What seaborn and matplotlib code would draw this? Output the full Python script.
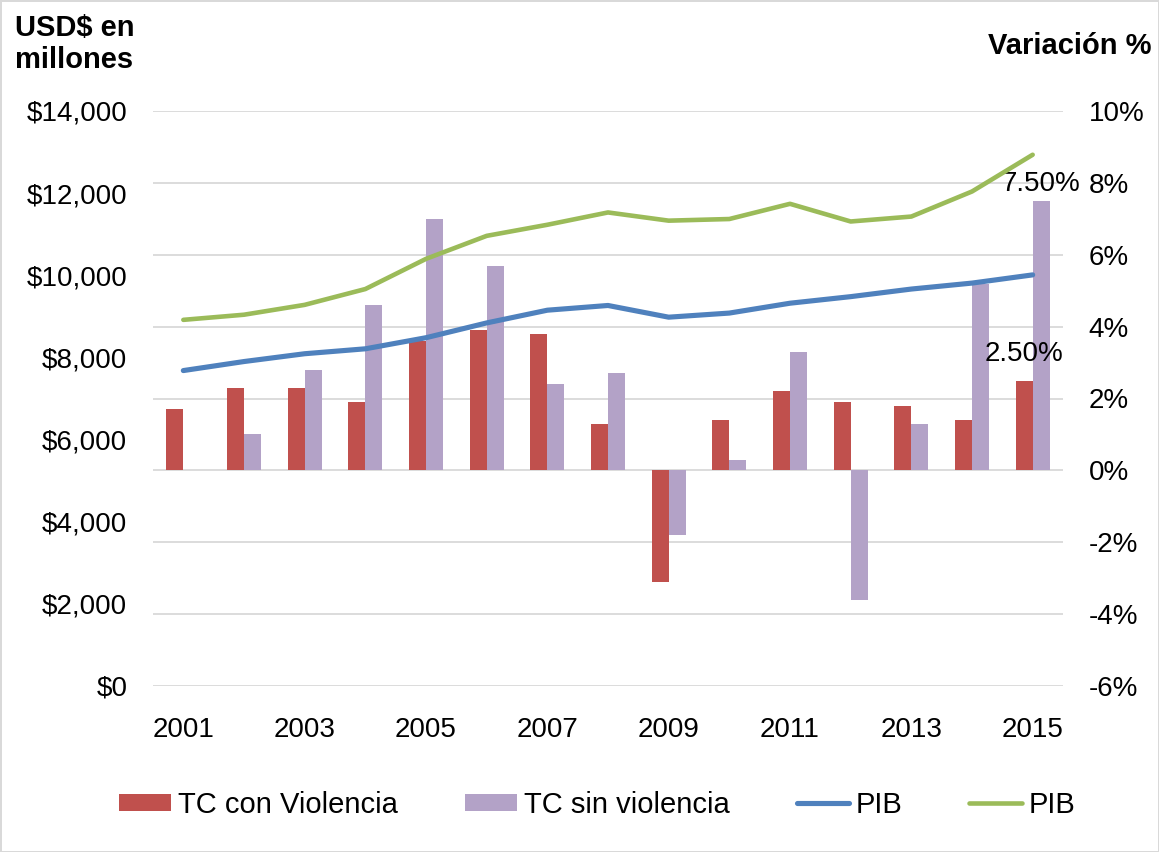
"""Turismo receptor (TC con / sin violencia) vs PIB, 2001-2015, dual axis."""

import matplotlib

matplotlib.use("Agg")
import matplotlib.pyplot as plt
import numpy as np
import pandas as pd
import seaborn as sns
from matplotlib.ticker import FuncFormatter, MultipleLocator

years = [str(y) for y in range(2001, 2016)]
# variacion % (eje derecho)
tc_con_violencia = [1.7, 2.3, 2.3, 1.9, 3.6, 3.9, 3.8, 1.3, -3.1, 1.4, 2.2, 1.9, 1.8, 1.4, 2.5]
tc_sin_violencia = [0.0, 1.0, 2.8, 4.6, 7.0, 5.7, 2.4, 2.7, -1.8, 0.3, 3.3, -3.6, 1.3, 5.2, 7.5]
# USD$ en millones (eje izquierdo)
pib_azul = [7680, 7900, 8090, 8210, 8480, 8840, 9150, 9265, 8980, 9080, 9320, 9480, 9665, 9810, 10010]
pib_verde = [8915, 9040, 9280, 9665, 10400, 10960, 11230, 11530, 11330, 11370, 11740, 11310, 11430, 12040, 12935]
series_names = ["TC con Violencia", "TC sin violencia"]
shown_labels = {"TC con Violencia": "2.50%", "TC sin violencia": "7.50%"}

RED, PURPLE = "#C0504D", "#B3A2C7"
BLUE, GREEN = "#4F81BD", "#9BBB59"
GRID = "#D9D9D9"

sns.set_style("white")
plt.rcParams["font.family"] = ["Liberation Sans", "DejaVu Sans"]
plt.rcParams["text.color"] = "black"

df = pd.DataFrame(
    {
        "year": years * 2,
        "serie": [series_names[0]] * len(years) + [series_names[1]] * len(years),
        "valor": tc_con_violencia + tc_sin_violencia,
    }
)

W, H = 1159, 852
fig = plt.figure(figsize=(W / 100, H / 100), dpi=100, edgecolor=GRID, linewidth=2)
ax = fig.add_axes([153 / W, 1 - 686 / H, (1063 - 153) / W, (686 - 111) / H])

# bars on the percentage axis
sns.barplot(
    data=df, x="year", y="valor", hue="serie", order=years, hue_order=series_names,
    palette=[RED, PURPLE], saturation=1, width=0.56, linewidth=0, legend=False, ax=ax,
)
ax.set_ylim(-6, 10)
ax.yaxis.set_major_locator(MultipleLocator(2))
ax.yaxis.set_major_formatter(FuncFormatter(lambda v, _: f"{v:.0f}%"))
ax.yaxis.grid(True, color=GRID, linewidth=1.3)
ax.set_axisbelow(True)

# labels only on the last year
for cont, name, pad in zip(ax.containers, series_names, [10, 3]):
    labels = [""] * (len(years) - 1) + [shown_labels[name]]
    ax.bar_label(cont, labels=labels, padding=pad, fontsize=20, color="black")

# lines on the USD axis
ax2 = ax.twinx()
pos = np.arange(len(years))
sns.lineplot(x=pos, y=pib_azul, color=BLUE, linewidth=3.7, solid_capstyle="round", ax=ax2)
sns.lineplot(x=pos, y=pib_verde, color=GREEN, linewidth=3.3, solid_capstyle="round", ax=ax2)
ax2.set_ylim(0, 14000)
ax2.yaxis.set_major_locator(MultipleLocator(2000))
ax2.yaxis.set_major_formatter(FuncFormatter(lambda v, _: f"${v:,.0f}"))

# percent ticks right, USD ticks left (after twinx, which resets sides)
ax.yaxis.tick_right()
ax2.yaxis.tick_left()

ax.set_xlim(-0.5, len(years) - 0.5)
ax.set_xticks(pos[::2])
ax.set_xticklabels(years[::2])
ax.set_xlabel("")
ax.set_ylabel("")
ax2.set_ylabel("")

for a in (ax, ax2):
    for s in a.spines.values():
        s.set_visible(False)
    a.tick_params(axis="both", length=0, labelsize=20, colors="black")
ax.tick_params(axis="x", pad=22)
ax.tick_params(axis="y", pad=18.5)
ax2.tick_params(axis="y", pad=18.5)

fig.text(15 / W, 1 - 14 / H, "USD$ en\nmillones", ha="left", va="top", color="black",
         fontsize=21, fontweight="bold", linespacing=1.2)
fig.text(1152 / W, 1 - 46 / H, "Variación %", ha="right", va="center", color="black",
         fontsize=21, fontweight="bold")

handles = [ax.containers[0], ax.containers[1], ax2.lines[0], ax2.lines[1]]
fig.legend(
    handles, ["TC con Violencia", "TC sin violencia", "PIB", "PIB"],
    loc="center", bbox_to_anchor=(597 / W, 1 - 805 / H), ncol=4, frameon=False,
    fontsize=21, handlelength=1.8, handleheight=0.55, handletextpad=0.22,
    columnspacing=2.3, labelcolor="black",
)

fig.savefig("out.png", dpi=100)
